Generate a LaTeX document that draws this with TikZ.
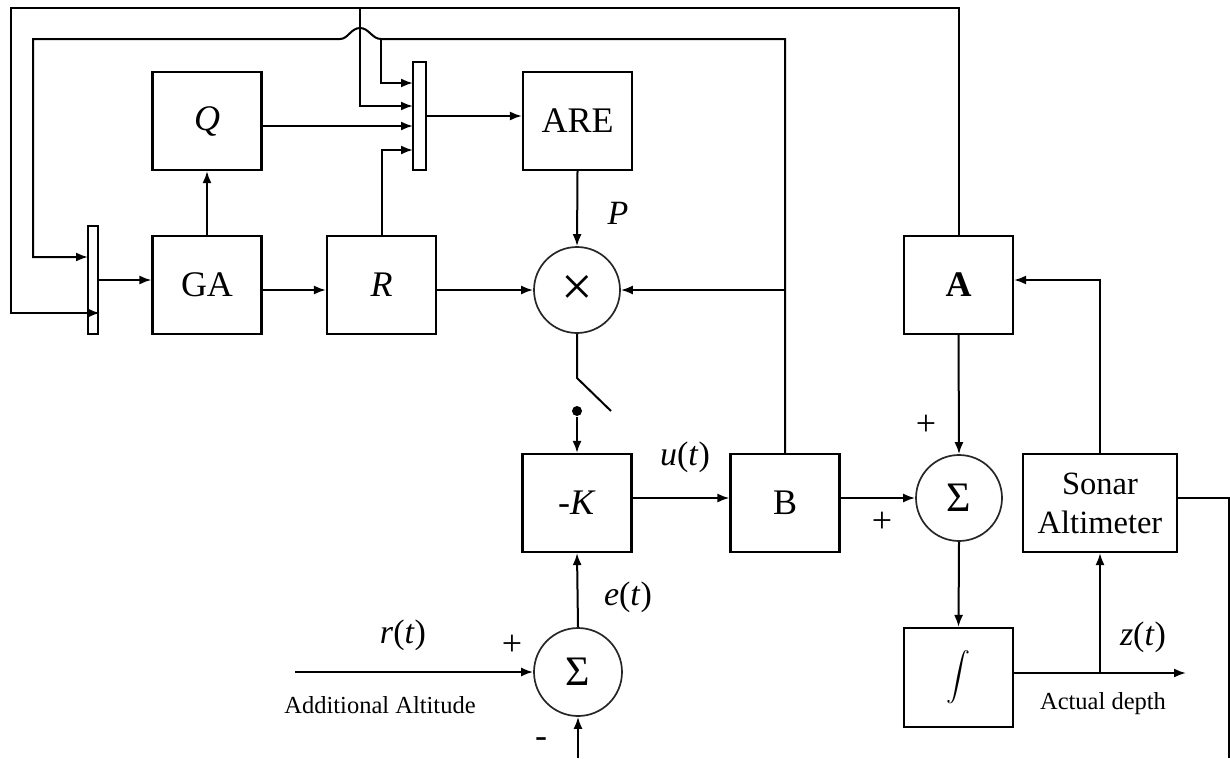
\documentclass[tikz,border=0pt]{standalone}
\usepackage{fontspec}
\usepackage{graphicx}
\setmainfont{Liberation Serif}
\usetikzlibrary{arrows.meta}
\begin{document}
\begin{tikzpicture}[x=1pt,y=-1pt,line width=2pt,
  blk/.style={draw,line width=2.1pt,minimum width=109pt,minimum height=98pt,inner sep=0pt,font=\fontsize{36}{40}\selectfont},
  bar/.style={draw,line width=2pt,minimum height=108pt,inner sep=0pt},
  circ/.style={draw,circle,line width=1.7pt,black!85,text=black,minimum size=86pt,inner sep=0pt,font=\fontsize{42}{46}\selectfont},
  arr/.style={-{Latex[length=12pt,width=9pt]}},
  lbl/.style={font=\fontsize{34}{38}\selectfont,inner sep=0pt},
  note/.style={font=\fontsize{24.5}{28}\selectfont,inner sep=0pt},
  sgn/.style={font=\fontsize{36}{38}\selectfont,inner sep=0pt}]
\useasboundingbox (0,0) rectangle (1230,758);
% blocks
\node[blk] (Q) at (207,121) {\textit{Q}};
\node[blk] (ARE) at (577.5,121) {ARE};
\node[blk] (GA) at (207,285) {GA};
\node[blk] (R) at (381.5,285) {\textit{R}};
\node[blk] (A) at (958.5,285) {\textbf{A}};
\node[blk] (K) at (577,503) {-\textit{K}};
\node[blk] (B) at (785,503) {B};
\node[blk,minimum width=154pt,font=\fontsize{32.5}{39}\selectfont,align=center] (sonar) at (1100,503) {Sonar\\Altimeter};
\node[blk,minimum height=99pt] (integ) at (958.5,677.5) {\scalebox{2.4}{\normalsize$\displaystyle\int$}};
\node[bar,minimum width=13pt] (mux1) at (419.5,116) {};
\node[bar,minimum width=10pt] (mux0) at (93,280) {};
\node[circ,font=\fontsize{56}{60}\selectfont] (mult) at (577,290) {×};
\node[circ] (sum2) at (959,498) {Σ};
\node[circ,minimum size=88pt] (sum1) at (578,672) {Σ};
% helper points
\coordinate (mi1) at (413,83);
\coordinate (mi2) at (413,106);
\coordinate (mi3) at (413,126);
\coordinate (mi4) at (413,150);
\coordinate (ni1) at (88,257);
\coordinate (ni2) at (100,313);
\coordinate (hj) at (381,39);
\coordinate (tj) at (360,8);
\coordinate (zout) at (1186,673);
\coordinate (rin) at (295,672);
\coordinate (fb) at (578,758);
\coordinate (fr) at (1229,758);
\coordinate (sw1) at (577,378);
\coordinate (sw2) at (611,411);
% wires
\draw[arr] (Q.east |- mi3) -- (mi3);
\draw[arr] (mux1.east) -- (mux1.east -| ARE.west);
\draw[arr] (ARE.south) -- (mult.north);
\draw[arr] (GA.north) -- (Q.south);
\draw[arr] (mux0.east) -- (mux0.east -| GA.west);
\draw[arr] (GA.east |- mult) -- (R.west |- mult);
\draw[arr] (R.east |- mult) -- (mult.west);
\draw[arr] (R.north) |- (mi4);
\draw[arr] (B.north) -- (B.north |- hj) -- (hj) .. controls (372,39) and (369,28) .. (360,28) .. controls (351,28) and (348,39) .. (340,39) -- (33,39) |- (ni1);
\draw[arr] (hj) |- (mi1);
\draw[arr] (B.north |- mult) -- (mult.east);
\draw[arr] (A.north) -- (A.north |- tj) -- (11,8) |- (ni2);
\draw[arr] (tj) |- (mi2);
\draw[arr] (sonar.north) |- ([yshift=5pt]A.east);
\draw[arr] (A.south) -- (sum2.north);
\draw[arr] (B.east |- sum2) -- (sum2.west);
\draw[arr] (K.east |- sum2) -- (B.west |- sum2);
\draw[arr] (sum2.south) -- (integ.north);
\draw[arr] (integ.east |- zout) -- (zout);
\draw[arr] (sonar.south |- zout) -- (sonar.south);
\draw (sonar.east |- sum2) -| (fr);
\draw[arr] (rin) -- (sum1.west);
\draw[arr] (fb) -- (sum1.south);
\draw[arr] (sum1.north) -- (K.south);
\draw (mult.south) -- (sw1) -- (sw2);
\node[circle,fill,inner sep=0pt,minimum size=10pt] (dot) at (577,411) {};
\draw[arr] (dot) -- (K.north);
% labels
\node[lbl] (lP) at (618,213) {\textit{P}};
\node[lbl] (lu) at (685,457) {\textit{u}(\textit{t})};
\node[lbl] (le) at (628,597) {\textit{e}(\textit{t})};
\node[lbl] (lr) at (403,635) {\textit{r}(\textit{t})};
\node[lbl] (lz) at (1143,637) {\textit{z}(\textit{t})};
\node[sgn] (p1) at (512,645) {+};
\node[sgn] (m1) at (541,743) {-};
\node[sgn] (p2) at (926,425) {+};
\node[sgn] (p3) at (882,522) {+};
\node[note] (aa) at (380,705) {Additional Altitude};
\node[note] (ad) at (1103,704) {Actual depth};
\end{tikzpicture}
\end{document}
